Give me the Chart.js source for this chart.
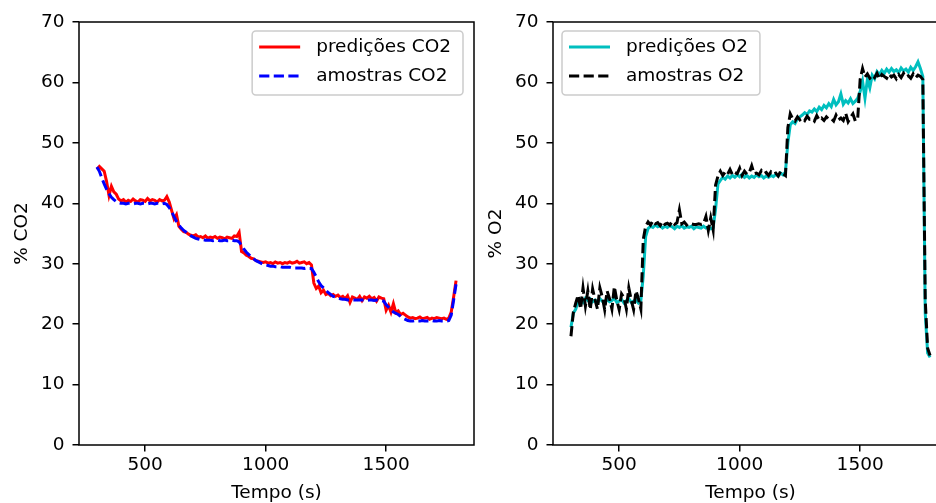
<!DOCTYPE html>
<html>
<head>
<meta charset="utf-8">
<script src="https://cdn.jsdelivr.net/npm/chart.js@4.4.1/dist/chart.umd.min.js"></script>
<style>
    html, body { margin: 0; padding: 0; background: #fff; overflow: hidden; width: 936px; height: 503px; }
    canvas { position: absolute; top: 0; }
    #graficoCO2 { left: 0; }
    #graficoO2 { left: 474px; }
</style>
</head>
<body>
<canvas id="graficoCO2" width="480" height="503"></canvas>
<canvas id="graficoO2" width="480" height="503"></canvas>
<script>
// tempo (s), um ponto a cada 10 s
const tempo = [
    300, 310, 320, 330, 340, 350, 360, 370, 380, 390,
    400, 410, 420, 430, 440, 450, 460, 470, 480, 490,
    500, 510, 520, 530, 540, 550, 560, 570, 580, 590,
    600, 610, 620, 630, 640, 650, 660, 670, 680, 690,
    700, 710, 720, 730, 740, 750, 760, 770, 780, 790,
    800, 810, 820, 830, 840, 850, 860, 870, 880, 890,
    900, 910, 920, 930, 940, 950, 960, 970, 980, 990,
    1000, 1010, 1020, 1030, 1040, 1050, 1060, 1070, 1080, 1090,
    1100, 1110, 1120, 1130, 1140, 1150, 1160, 1170, 1180, 1190,
    1200, 1210, 1220, 1230, 1240, 1250, 1260, 1270, 1280, 1290,
    1300, 1310, 1320, 1330, 1340, 1350, 1360, 1370, 1380, 1390,
    1400, 1410, 1420, 1430, 1440, 1450, 1460, 1470, 1480, 1490,
    1500, 1510, 1520, 1530, 1540, 1550, 1560, 1570, 1580, 1590,
    1600, 1610, 1620, 1630, 1640, 1650, 1660, 1670, 1680, 1690,
    1700, 1710, 1720, 1730, 1740, 1750, 1760, 1770, 1780, 1790
];

const predCO2 = [
    45.6, 46.1, 45.7, 45.3, 43.6, 41.3, 42.8, 41.9, 41.5, 40.7,
    40.4, 40.6, 40.2, 40.5, 40.3, 40.7, 40.4, 40.2, 40.6, 40.5,
    40.3, 40.8, 40.4, 40.6, 40.5, 40.2, 40.6, 40.4, 40.5, 41.1,
    40.2, 38.8, 37.4, 38.1, 36.2, 35.7, 35.3, 35.2, 34.9, 34.7,
    34.6, 34.8, 34.4, 34.5, 34.3, 34.6, 34.2, 34.4, 34.3, 34.5,
    34.2, 34.4, 34.3, 34.1, 34.4, 34.3, 34.2, 34.6, 34.5, 35.2,
    32.0, 31.8, 31.4, 31.2, 30.9, 30.8, 30.5, 30.4, 30.3, 30.2,
    30.3, 30.1, 30.2, 30.0, 30.3, 30.1, 30.2, 30.0, 30.2, 30.1,
    30.3, 30.1, 30.2, 30.4, 30.1, 30.2, 30.3, 30.0, 30.2, 29.8,
    26.8, 25.9, 26.3, 25.2, 25.6, 24.9, 25.1, 24.7, 24.9, 24.6,
    24.8, 24.4, 24.6, 24.2, 24.7, 23.6, 24.5, 24.3, 24.1, 24.6,
    23.9, 24.5, 24.3, 24.6, 24.2, 24.4, 23.8, 24.5, 24.3, 24.2,
    22.3, 23.1, 22.0, 23.4, 21.9, 22.2, 21.6, 21.8, 21.5, 21.2,
    21.0, 21.1, 20.9, 21.0, 21.2, 20.9, 21.0, 21.1, 20.8, 21.0,
    20.9, 21.1, 21.0, 20.9, 21.0, 20.8, 21.0, 22.0, 24.5, 27.2
];

const amostCO2 = [
    46.0, 45.3, 44.2, 43.2, 42.3, 41.6, 41.0, 40.6, 40.3, 40.1,
    40.0, 40.0, 39.9, 40.0, 40.0, 39.9, 40.0, 40.0, 39.9, 40.0,
    40.0, 39.9, 40.0, 40.0, 39.9, 40.0, 40.0, 39.9, 40.0, 39.8,
    39.3, 38.6, 37.8, 37.0, 36.4, 35.9, 35.5, 35.2, 34.9, 34.6,
    34.4, 34.2, 34.1, 34.0, 34.0, 33.9, 33.9, 33.9, 33.8, 33.9,
    33.9, 33.8, 33.8, 33.9, 33.8, 33.8, 33.9, 33.8, 33.8, 33.6,
    33.0, 32.4, 31.9, 31.5, 31.1, 30.8, 30.5, 30.3, 30.1, 29.9,
    29.8, 29.7, 29.6, 29.6, 29.5, 29.5, 29.5, 29.4, 29.4, 29.4,
    29.4, 29.3, 29.3, 29.3, 29.3, 29.3, 29.2, 29.3, 29.2, 29.2,
    28.6, 27.8, 27.0, 26.4, 26.0, 25.6, 25.2, 24.9, 24.6, 24.5,
    24.3, 24.2, 24.1, 24.1, 24.0, 24.0, 24.0, 24.0, 24.0, 24.0,
    24.0, 24.0, 23.9, 24.0, 24.0, 23.9, 24.0, 23.9, 23.9, 23.8,
    23.2, 22.8, 22.4, 22.0, 21.8, 21.6, 21.3, 21.0, 20.8, 20.6,
    20.5, 20.5, 20.6, 20.5, 20.5, 20.6, 20.5, 20.5, 20.5, 20.6,
    20.5, 20.5, 20.6, 20.5, 20.5, 20.5, 20.6, 21.5, 24.0, 26.6
];

const predO2 = [
    19.5, 21.8, 22.5, 23.8, 24.1, 23.6, 24.3, 23.9, 24.2, 23.7,
    24.0, 23.5, 24.2, 23.8, 23.6, 24.1, 23.7, 23.9, 24.3, 23.6,
    23.8, 24.1, 23.5, 23.9, 24.2, 23.6, 23.8, 24.0, 23.5, 23.9,
    28.0, 34.5, 35.8, 36.2, 36.0, 36.4, 36.1, 36.3, 35.9, 36.2,
    36.0, 36.3, 36.1, 35.8, 36.2, 36.0, 36.3, 35.9, 36.1, 36.0,
    36.2, 35.8, 36.1, 36.0, 35.9, 36.2, 35.9, 36.1, 35.8, 36.0,
    39.0, 43.2, 43.8, 44.3, 44.0, 44.5, 44.2, 44.6, 44.3, 44.7,
    44.4, 44.8, 44.3, 44.6, 44.2, 44.5, 44.3, 44.7, 44.4, 44.6,
    44.2, 44.5, 44.3, 44.6, 44.4, 44.8, 44.5, 45.0, 44.7, 45.2,
    50.0, 53.0, 53.5, 53.2, 54.0, 54.3, 54.6, 55.0, 54.7, 55.3,
    55.1, 55.6, 55.2, 55.9, 55.5, 56.2, 55.8, 56.5, 56.0, 57.2,
    56.3, 56.8, 58.1, 56.4, 57.0, 56.6, 57.3, 56.5, 56.9, 57.4,
    58.5, 60.2, 57.4, 60.5, 59.1, 61.2, 60.6, 61.8, 61.3, 62.0,
    61.5, 62.2, 61.7, 62.3, 61.8, 62.1, 61.6, 62.4, 61.9, 62.2,
    61.7, 62.5, 62.0, 62.6, 63.4, 62.3, 61.0, 21.8, 15.2, 14.5
];

const amostO2 = [
    18.0, 22.0, 23.5, 24.8, 22.5, 26.0, 23.0, 25.5, 22.4, 25.8,
    24.0, 22.5, 26.0, 24.5, 22.4, 25.5, 24.2, 22.5, 26.2, 24.0,
    22.4, 25.0, 24.4, 22.5, 26.0, 24.0, 22.4, 25.5, 24.2, 22.5,
    34.0, 36.2, 36.9, 36.4, 37.1, 36.6, 36.8, 36.3, 37.0, 36.5,
    36.7, 36.4, 37.0, 36.5, 36.8, 38.9, 36.6, 36.9, 36.4, 36.7,
    36.6, 36.5, 36.5, 36.6, 36.5, 36.6, 37.8, 35.5, 37.6, 35.6,
    43.0, 44.5, 45.3, 44.6, 45.2, 44.8, 45.6, 44.7, 45.1, 44.9,
    45.8, 44.6, 45.3, 44.8, 45.1, 46.2, 44.9, 45.0, 44.7, 45.4,
    44.9, 45.1, 44.6, 45.2, 44.8, 45.0, 44.5, 45.3, 44.9, 44.6,
    52.5, 54.8, 54.0, 53.6, 54.3, 53.8, 54.1, 53.7, 54.4, 53.9,
    54.0, 53.6, 54.5, 53.8, 54.1, 53.7, 54.3, 53.9, 54.0, 53.6,
    54.6, 53.8, 54.1, 53.7, 54.9, 53.5, 54.2, 54.8, 53.6, 54.1,
    60.5, 62.3, 60.9, 61.4, 60.7, 61.2, 60.8, 61.5, 60.6, 61.3,
    61.0, 60.7, 61.4, 60.9, 61.2, 60.6, 61.3, 60.8, 61.5, 60.9,
    61.1, 60.7, 61.4, 60.8, 61.2, 61.0, 60.5, 24.0, 16.0, 14.8
];

const xTicks = [500, 1000, 1500];
const yTicks = [0, 10, 20, 30, 40, 50, 60, 70];

const FONTE = 'DejaVu Sans';
const TAM = 18.5; // ~10pt a 133 dpi

const pontos = (serie) => tempo.map((t, i) => ({x: t, y: serie[i]}));

// caixa dos eixos (4 lados, como no matplotlib)
const moldura = {
    id: 'moldura',
    afterDatasetsDraw(chart) {
        const {ctx, chartArea: a} = chart;
        ctx.save();
        ctx.strokeStyle = '#000';
        ctx.lineWidth = 1.5;
        ctx.strokeRect(a.left, a.top, a.right - a.left, a.bottom - a.top);
        ctx.restore();
    }
};

// legenda dentro da area do grafico
const legendaInterna = {
    id: 'legendaInterna',
    afterDraw(chart, args, opts) {
        const {ctx, chartArea: a} = chart;
        const sets = chart.data.datasets;
        ctx.save();
        ctx.font = `${TAM}px "${FONTE}"`;
        const larguraTexto = Math.max(...sets.map(d => ctx.measureText(d.label).width));
        const w = larguraTexto + 76;
        const h = 64;
        const x = opts.lado === 'direita' ? a.right - 11 - w : a.left + 9;
        const y = a.top + 9;

        ctx.beginPath();
        ctx.roundRect(x, y, w, h, 3.7);
        ctx.fillStyle = 'rgba(255,255,255,0.8)';
        ctx.fill();
        ctx.strokeStyle = '#cccccc';
        ctx.lineWidth = 1.5;
        ctx.stroke();

        sets.forEach((d, i) => {
            const ly = y + 16 + i * 29;
            ctx.beginPath();
            ctx.setLineDash(d.borderDash || []);
            ctx.strokeStyle = d.borderColor;
            ctx.lineWidth = d.borderWidth;
            ctx.moveTo(x + 7, ly);
            ctx.lineTo(x + 48, ly);
            ctx.stroke();
            ctx.setLineDash([]);
            ctx.fillStyle = '#000';
            ctx.textBaseline = 'middle';
            ctx.textAlign = 'left';
            ctx.fillText(d.label, x + 64, ly);
        });
        ctx.restore();
    }
};

function opcoes(tituloY, lado) {
    return {
        responsive: false,
        animation: false,
        layout: {padding: {top: 22, right: 6, left: 0, bottom: 0}},
        plugins: {
            legend: {display: false},
            tooltip: {enabled: false},
            legendaInterna: {lado: lado},
        },
        scales: {
            x: {
                type: 'linear',
                min: 225.5,
                max: 1864.5,
                afterBuildTicks: (s) => { s.ticks = xTicks.map(v => ({value: v})); },
                afterFit: (s) => { s.height = 58; },
                ticks: {
                    color: '#000',
                    padding: 3,
                    maxRotation: 0,
                    font: {family: FONTE, size: TAM},
                    callback: (v) => String(v),
                },
                grid: {
                    display: true,
                    drawOnChartArea: false,
                    drawTicks: true,
                    tickLength: 6.5,
                    color: '#000',
                    lineWidth: 1.5,
                },
                border: {display: false},
                title: {
                    display: true,
                    text: 'Tempo (s)',
                    color: '#000',
                    font: {family: FONTE, size: TAM, lineHeight: 1.1},
                    padding: {top: 0, bottom: 0},
                },
            },
            y: {
                min: 0,
                max: 70,
                afterBuildTicks: (s) => { s.ticks = yTicks.map(v => ({value: v})); },
                afterFit: (s) => { s.width = 79; },
                ticks: {
                    color: '#000',
                    padding: 8,
                    font: {family: FONTE, size: TAM},
                    callback: (v) => String(v),
                },
                grid: {
                    display: true,
                    drawOnChartArea: false,
                    drawTicks: true,
                    tickLength: 6.5,
                    color: '#000',
                    lineWidth: 1.5,
                },
                border: {display: false},
                title: {
                    display: true,
                    text: tituloY,
                    color: '#000',
                    font: {family: FONTE, size: TAM},
                    padding: {top: 11, bottom: 0},
                },
            },
        },
    };
}

const tracejado = [10.2, 4.4];

new Chart(document.getElementById('graficoCO2'), {
    type: 'line',
    data: {
        datasets: [
            {label: 'predições CO2', data: pontos(predCO2), borderColor: '#ff0000', borderWidth: 3, pointRadius: 0, order: 1},
            {label: 'amostras CO2', data: pontos(amostCO2), borderColor: '#0000ff', borderWidth: 3, borderDash: tracejado, pointRadius: 0, order: 0},
        ],
    },
    options: opcoes('% CO2', 'direita'),
    plugins: [moldura, legendaInterna],
});

new Chart(document.getElementById('graficoO2'), {
    type: 'line',
    data: {
        datasets: [
            {label: 'predições O2', data: pontos(predO2), borderColor: '#00bfbf', borderWidth: 3, pointRadius: 0, order: 1},
            {label: 'amostras O2', data: pontos(amostO2), borderColor: '#000000', borderWidth: 3, borderDash: tracejado, pointRadius: 0, order: 0},
        ],
    },
    options: opcoes('% O2', 'esquerda'),
    plugins: [moldura, legendaInterna],
});
</script>
</body>
</html>
